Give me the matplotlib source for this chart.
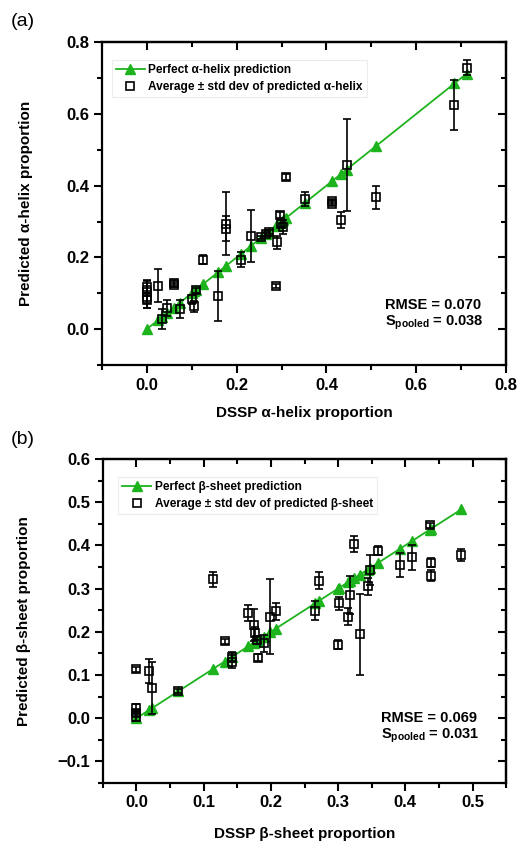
#! /usr/bin/env python3
import numpy as np
import matplotlib
matplotlib.use('Agg')
import matplotlib.pyplot as plt
from matplotlib.ticker import MultipleLocator

plt.rcParams['font.family'] = ['Liberation Sans', 'DejaVu Sans']
plt.rcParams['font.weight'] = 'bold'
plt.rcParams['axes.labelweight'] = 'bold'
plt.rcParams['mathtext.fontset'] = 'custom'
plt.rcParams['mathtext.rm'] = 'Liberation Sans:bold'
plt.rcParams['mathtext.it'] = 'Liberation Sans:bold'
plt.rcParams['mathtext.bf'] = 'Liberation Sans:bold'

green = '#1db31d'

#alpha-helix: DSSP proportion, predicted mean, predicted std dev
helixDssp = [0.000, 0.000, 0.000, 0.000, 0.026, 0.033, 0.046, 0.060, 0.060, 0.074,
             0.100, 0.106, 0.110, 0.125, 0.158, 0.177, 0.177, 0.209, 0.233, 0.255,
             0.265, 0.272, 0.288, 0.290, 0.296, 0.298, 0.303, 0.309, 0.353, 0.412,
             0.412, 0.432, 0.445, 0.510, 0.685, 0.712]
helixMean = [0.118, 0.104, 0.090, 0.080, 0.121, 0.028, 0.060, 0.130, 0.124, 0.055,
             0.083, 0.064, 0.108, 0.194, 0.092, 0.294, 0.280, 0.194, 0.260, 0.256,
             0.266, 0.271, 0.120, 0.242, 0.318, 0.294, 0.285, 0.424, 0.362, 0.357,
             0.350, 0.304, 0.457, 0.368, 0.625, 0.729]
helixStd = [0.020, 0.030, 0.030, 0.020, 0.046, 0.028, 0.022, 0.006, 0.006, 0.025,
            0.012, 0.015, 0.008, 0.012, 0.070, 0.088, 0.035, 0.022, 0.072, 0.005,
            0.006, 0.006, 0.006, 0.018, 0.008, 0.010, 0.020, 0.008, 0.020, 0.006,
            0.006, 0.022, 0.128, 0.032, 0.070, 0.020]
helixRmse = 0.070
helixSpooled = 0.038

#beta-sheet: DSSP proportion, predicted mean, predicted std dev
sheetDssp = [0.000, 0.000, 0.000, 0.000, 0.019, 0.023, 0.062, 0.114, 0.131, 0.142,
             0.142, 0.166, 0.175, 0.176, 0.179, 0.181, 0.189, 0.199, 0.207, 0.266,
             0.271, 0.300, 0.301, 0.315, 0.317, 0.324, 0.332, 0.344, 0.348, 0.360,
             0.392, 0.410, 0.436, 0.438, 0.438, 0.483]
sheetMean = [0.113, 0.024, 0.012, 0.002, 0.110, 0.070, 0.063, 0.321, 0.178, 0.142,
             0.131, 0.243, 0.216, 0.196, 0.181, 0.140, 0.173, 0.235, 0.247, 0.249,
             0.318, 0.170, 0.266, 0.235, 0.285, 0.403, 0.194, 0.305, 0.343, 0.388,
             0.355, 0.372, 0.446, 0.360, 0.330, 0.377]
sheetStd = [0.006, 0.008, 0.008, 0.008, 0.028, 0.060, 0.005, 0.018, 0.006, 0.012,
            0.015, 0.018, 0.037, 0.015, 0.010, 0.008, 0.020, 0.086, 0.020, 0.022,
            0.020, 0.010, 0.015, 0.020, 0.045, 0.018, 0.093, 0.020, 0.035, 0.010,
            0.028, 0.028, 0.006, 0.010, 0.012, 0.014]
sheetRmse = 0.069
sheetSpooled = 0.031


def drawPanel(ax, dssp, mean, std, name, rmse, sPooled, xLim, yLim, xStep, yStep,
              legendAnchor, statsPos, xPad, yPad):
    #Perfect prediction: y = x at each DSSP value
    perfect = np.unique(dssp)
    ax.plot(perfect, perfect, '-^', color=green, lw=1.3, ms=6.5, zorder=3,
            label='Perfect {} prediction'.format(name))
    ax.errorbar(dssp, mean, yerr=std, fmt='none', ecolor='black', elinewidth=1.2,
                capsize=3.2, capthick=1.2, zorder=4)
    ax.plot(dssp, mean, 's', mfc='none', mec='black', mew=1.2, ms=5.5, zorder=5,
            label='Average \u00b1 std dev of predicted {}'.format(name))

    ax.set_xlim(xLim)
    ax.set_ylim(yLim)
    ax.xaxis.set_major_locator(MultipleLocator(xStep))
    ax.xaxis.set_minor_locator(MultipleLocator(xStep / 2))
    ax.yaxis.set_major_locator(MultipleLocator(yStep))
    ax.yaxis.set_minor_locator(MultipleLocator(yStep / 2))
    ax.xaxis.set_major_formatter('{x:.1f}')
    ax.yaxis.set_major_formatter('{x:.1f}')
    ax.tick_params(which='both', direction='out', width=1.5, labelsize=12)
    ax.tick_params(which='major', length=5.5)
    ax.tick_params(which='minor', length=3.5)
    for s in ax.spines.values():
        s.set_linewidth(1.6)

    #Mirrored ticks on top and right pointing inwards
    top = ax.secondary_xaxis('top')
    right = ax.secondary_yaxis('right')
    for sec, axis, step in ((top, top.xaxis, xStep), (right, right.yaxis, yStep)):
        axis.set_major_locator(MultipleLocator(step))
        axis.set_minor_locator(MultipleLocator(step / 2))
        sec.tick_params(which='both', direction='in', width=1.5, labeltop=False, labelright=False)
        sec.tick_params(which='major', length=5.5)
        sec.tick_params(which='minor', length=3.5)
        for s in sec.spines.values():
            s.set_linewidth(1.6)

    leg = ax.legend(loc='upper left', bbox_to_anchor=legendAnchor, fontsize=8.6,
                    handlelength=2.4, handletextpad=0.3, labelspacing=0.4,
                    borderpad=0.35, fancybox=False, framealpha=1.0)
    leg.get_frame().set_edgecolor('#ececec')
    leg.get_frame().set_linewidth(0.8)

    ax.text(statsPos[0], statsPos[1], 'RMSE = {:.3f}'.format(rmse), transform=ax.transAxes,
            fontsize=10.5, va='center')
    ax.text(statsPos[0], statsPos[1] - 0.057, 'S$_{{pooled}}$ = {:.3f}'.format(sPooled),
            transform=ax.transAxes, fontsize=10.5, va='center')

    ax.set_xlabel('DSSP {} proportion'.format(name), fontsize=11, labelpad=xPad)
    ax.set_ylabel('Predicted {} proportion'.format(name), fontsize=11, labelpad=yPad)


fig = plt.figure(figsize=(5.17, 8.43), dpi=100)
axA = fig.add_axes([0.197, 0.567, 0.782, 0.383])
axB = fig.add_axes([0.199, 0.0712, 0.780, 0.3844])

drawPanel(axA, helixDssp, helixMean, helixStd, '\u03b1-helix', helixRmse, helixSpooled,
          (-0.1, 0.8), (-0.1, 0.8), 0.2, 0.2, (0.01, 0.963), (0.70, 0.187), 10, 24)
drawPanel(axB, sheetDssp, sheetMean, sheetStd, '\u03b2-sheet', sheetRmse, sheetSpooled,
          (-0.05, 0.55), (-0.15, 0.6), 0.1, 0.1, (0.023, 0.963), (0.69, 0.202), 12, 19)

fig.text(0.02, 1 - 22 / 843, '(a)', fontsize=14, fontweight='normal', va='center')
fig.text(0.02, 1 - 440 / 843, '(b)', fontsize=14, fontweight='normal', va='center')

fig.savefig('out.png', dpi=100)
